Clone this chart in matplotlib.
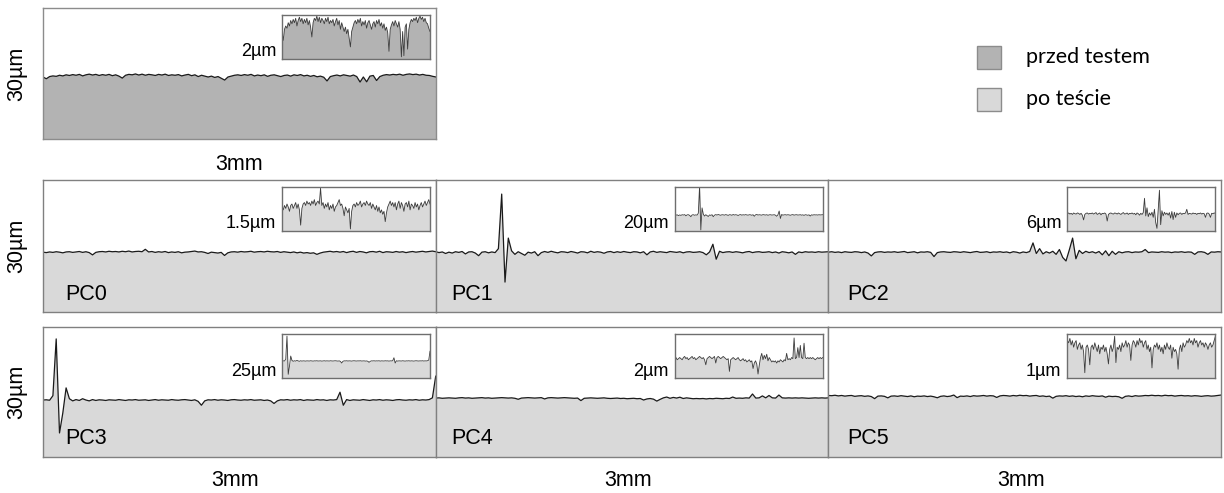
import numpy as np
import matplotlib.pyplot as plt
from matplotlib.patches import Rectangle

# profile heights (deviation from mean line, in um), 120 samples over 3 mm
before = [-0.30, -0.70, -0.20, -0.05, -0.15, 0.10, -0.05, 0.20, 0.05, 0.25,
          0.10, 0.30, -0.05, 0.20, 0.35, 0.15, 0.30, 0.05, 0.25, 0.10,
          0.30, 0.00, 0.20, -0.10, -0.55, 0.10, 0.30, 0.20, 0.40, 0.15,
          0.35, 0.10, 0.30, 0.20, 0.05, 0.30, 0.15, 0.35, 0.05, 0.20,
          0.10, 0.25, -0.05, 0.15, 0.30, 0.00, 0.20, -0.20, 0.10, -0.10,
          -0.30, -0.10, -0.40, -0.20, -0.60, -1.00, -0.30, -0.10, 0.10, 0.20,
          0.05, 0.25, 0.10, 0.30, -0.05, 0.15, 0.00, 0.20, -0.15, 0.10,
          0.20, 0.00, -0.20, 0.05, 0.15, -0.10, 0.20, 0.05, 0.25, -0.05,
          0.10, -0.15, 0.05, -0.25, -0.10, -0.35, -1.20, -0.20, 0.00, 0.15,
          -0.05, 0.20, 0.05, -0.10, 0.15, -0.20, -1.45, -0.30, -1.40, -0.10,
          0.05, -1.10, -0.20, 0.10, 0.25, 0.15, 0.30, 0.20, 0.35, 0.10,
          0.30, 0.40, 0.25, 0.35, 0.15, 0.30, 0.10, 0.05, -0.15, -0.30]

pc0 = [0.00, -0.10, 0.05, -0.05, 0.10, 0.00, -0.15, 0.05, 0.10, -0.05,
       0.05, 0.15, -0.05, 0.10, -0.10, -0.62, -0.05, 0.10, 0.15, 0.05,
       0.20, 0.10, 0.15, 0.05, 0.20, 0.10, 0.25, 0.05, 0.15, 0.20,
       0.10, 0.65, 0.05, 0.15, -0.05, 0.10, 0.00, 0.15, -0.10, 0.05,
       -0.05, 0.10, -0.15, 0.00, 0.05, 0.15, 0.25, 0.05, 0.10, -0.05,
       -0.30, 0.00, -0.10, -0.20, -0.05, -0.75, -0.15, 0.05, 0.10, 0.00,
       0.15, 0.05, 0.10, 0.20, 0.00, 0.10, 0.15, 0.05, 0.20, 0.10,
       0.05, 0.15, -0.05, 0.10, 0.00, -0.10, 0.05, -0.15, 0.00, -0.20,
       -0.10, -0.25, -0.15, -0.50, -0.20, 0.00, 0.10, 0.20, 0.05, 0.15,
       0.00, 0.15, -0.10, 0.10, 0.20, -0.05, 0.15, 0.05, -0.15, 0.10,
       0.15, 0.00, 0.20, -0.10, 0.10, 0.05, -0.05, 0.15, 0.00, 0.10,
       -0.10, 0.05, 0.15, 0.00, 0.10, 0.20, 0.05, 0.15, 0.25, 0.10]

pc1 = [0.10, -0.10, 0.05, -0.30, 0.00, -0.20, 0.10, -0.05, 0.15, -0.40,
       0.05, 0.10, -0.20, -0.80, 0.00, 0.10, -0.15, 0.05, -0.10, 0.80,
       13.20, -6.80, 3.20, 0.30, -0.50, 0.10, -0.30, -0.70, 0.00, -0.20,
       0.10, -0.80, -0.10, 0.15, -0.05, 0.20, 0.00, -0.15, 0.10, 0.05,
       -0.10, 0.15, 0.00, -0.20, 0.10, 0.05, -0.15, 0.20, -0.05, 0.10,
       0.00, -0.25, 0.05, 0.15, -0.10, 0.10, -0.05, 0.15, 0.00, -0.10,
       0.10, 0.05, -0.15, 0.10, -0.60, 0.05, 0.20, -0.05, 0.10, 0.00,
       -0.10, 0.15, 0.05, -0.05, 0.10, -0.15, 0.05, 0.10, -0.05, 0.00,
       0.10, -0.10, -0.60, 0.05, 1.80, -1.60, 0.20, -0.10, 0.05, 0.10,
       -0.05, 0.10, 0.00, -0.15, 0.05, 0.15, -0.10, 0.05, 0.10, -0.05,
       0.00, 0.10, -0.10, 0.05, -0.20, 0.10, 0.00, -0.15, 0.05, -0.50,
       0.05, -0.10, 0.10, 0.00, 0.05, -0.05, 0.10, 0.00, 0.05, 0.10]

pc2 = [0.00, 0.10, -0.05, 0.05, -0.10, 0.10, 0.00, -0.05, 0.10, 0.05,
       -0.10, 0.05, -0.20, -0.85, -0.10, 0.05, 0.10, -0.05, 0.05, 0.00,
       0.10, -0.05, 0.05, 0.15, -0.10, 0.00, 0.10, -0.15, 0.05, 0.00,
       0.10, -0.05, -1.00, -0.10, 0.05, 0.10, 0.00, -0.05, 0.10, 0.05,
       -0.05, 0.10, 0.00, -0.10, 0.05, 0.15, -0.05, 0.00, 0.10, -0.10,
       0.05, 0.00, 0.10, -0.05, 0.05, -0.15, 0.10, 0.00, -0.20, 0.05,
       -0.10, 0.15, 2.10, -0.30, 0.80, -0.40, 0.10, -0.20, 0.20, -0.50,
       0.60, -1.20, -2.00, 0.50, 3.20, -1.50, 0.40, -0.30, 0.20, -0.10,
       0.10, -0.20, 0.15, -0.60, 0.30, -0.80, 0.20, -0.50, 0.10, -0.15,
       0.05, 0.10, -0.10, 0.05, 0.00, 0.10, 0.60, -0.10, 0.05, 0.00,
       -0.05, 0.10, 0.00, 0.05, -0.10, 0.05, 0.00, 0.10, -0.05, 0.05,
       0.00, -0.50, 0.05, 0.10, -0.05, -0.50, 0.05, 0.00, 0.10, 0.05]

pc3 = [0.00, 0.05, -0.05, 1.00, 14.10, -7.60, -3.00, 2.80, 0.30, -0.20,
       0.10, -0.10, 0.30, 0.00, -0.20, 0.10, -0.10, 0.05, 0.00, -0.10,
       0.05, 0.00, -0.05, 0.10, 0.00, -0.10, 0.05, 0.00, 0.10, -0.05,
       0.00, 0.05, -0.10, 0.00, 0.10, -0.05, 0.05, 0.00, -0.05, 0.10,
       0.00, -0.05, 0.05, 0.10, 0.00, -0.10, 0.05, -0.30, -1.20, -0.20,
       0.05, 0.00, 0.10, -0.05, 0.05, 0.00, -0.10, 0.05, 0.10, 0.00,
       -0.05, 0.05, 0.00, 0.10, -0.05, 0.00, 0.05, -0.10, 0.00, -0.20,
       -0.80, -0.20, 0.05, 0.00, 0.10, -0.05, 0.05, 0.00, 0.10, -0.10,
       0.05, 0.00, -0.05, 0.10, 0.00, 0.05, -0.10, 0.05, 0.00, 0.10,
       1.80, -1.20, 0.10, -0.10, 0.05, 0.00, -0.05, 0.10, 0.00, -0.10,
       0.05, 0.00, 0.10, -0.05, 0.05, 0.00, -0.10, 0.05, 0.10, 0.00,
       -0.05, 0.05, 0.00, 0.10, -0.05, 0.05, 0.00, 0.10, 0.50, 5.50]

pc4 = [0.00, 0.05, -0.05, 0.00, 0.05, 0.00, -0.05, 0.05, 0.10, 0.00,
       0.05, -0.05, 0.00, 0.05, 0.10, 0.00, 0.05, -0.05, 0.00, 0.05,
       0.10, 0.05, 0.00, 0.05, -0.05, -0.28, 0.00, 0.05, 0.10, 0.05,
       0.00, 0.05, 0.10, -0.20, 0.05, 0.10, 0.05, 0.00, 0.05, 0.10,
       0.05, 0.00, -0.05, 0.00, -0.58, -0.05, 0.00, 0.05, 0.00, -0.05,
       0.00, 0.05, -0.05, -0.10, -0.05, 0.00, -0.10, -0.05, -0.15, -0.10,
       -0.05, -0.15, -0.10, -0.45, -0.20, -0.10, -0.25, -0.70, -0.30, 0.05,
       0.24, -0.05, 0.15, 0.00, 0.20, -0.10, 0.05, -0.05, -0.15, -0.10,
       -0.15, -0.10, -0.20, -0.10, -0.15, -0.05, -0.10, -0.15, -0.05, -0.10,
       0.24, -0.05, 0.00, -0.05, 0.05, 0.00, 0.94, 0.00, 0.05, 0.50,
       0.05, 0.60, 0.05, 0.00, 0.70, 0.05, 0.00, 0.05, 0.00, 0.05,
       0.00, 0.05, 0.00, -0.05, 0.00, 0.05, 0.00, 0.05, 0.00, 0.05]

pc5 = [0.10, 0.05, 0.15, 0.00, 0.10, -0.05, 0.05, 0.10, -0.10, 0.00,
       0.05, -0.10, 0.00, -0.15, -0.63, -0.05, 0.00, -0.10, -0.45, -0.05,
       0.00, -0.10, 0.05, -0.05, -0.15, 0.00, -0.20, -0.05, -0.10, 0.00,
       -0.15, -0.05, -0.20, -0.43, -0.10, 0.00, -0.15, -0.05, 0.20, -0.40,
       -0.05, -0.10, 0.00, -0.15, 0.05, -0.05, 0.00, 0.10, -0.05, 0.05,
       0.00, -0.35, 0.00, 0.10, 0.05, -0.05, 0.10, 0.00, 0.15, 0.05,
       0.10, -0.05, 0.05, 0.10, -0.10, 0.00, -0.15, -0.05, -0.52, -0.10,
       0.00, -0.05, 0.05, -0.10, 0.00, -0.15, -0.05, -0.20, 0.00, -0.10,
       0.05, -0.05, -0.10, 0.00, -0.30, -0.05, -0.15, -0.10, -0.20, -0.55,
       -0.10, 0.00, -0.15, 0.05, -0.05, 0.00, 0.10, 0.05, 0.15, 0.05,
       0.10, 0.00, 0.15, 0.05, 0.10, -0.05, 0.05, 0.10, 0.00, 0.05,
       -0.05, 0.05, 0.00, -0.10, 0.00, 0.05, -0.05, 0.00, 0.10, 0.20]

profiles = [pc0, pc1, pc2, pc3, pc4, pc5]
names = ["PC0", "PC1", "PC2", "PC3", "PC4", "PC5"]
levels = [13.6, 13.6, 13.6, 13.15, 13.6, 14.1]   # mean line height in the 30um window
before_level = 14.5
inset_labels = ["1.5µm", "20µm", "6µm", "25µm", "2µm", "1µm"]
inset_spans = [1.5, 20, 6, 25, 2, 1]
inset_bottoms = [-0.82, -7.3, -2.36, -9.7, -0.88, -0.75]

DARK = "#b3b3b3"
LIGHT = "#d9d9d9"
EDGE = "#808080"
FONT = "Liberation Sans"

W, H = 1224, 493
fig = plt.figure(figsize=(W / 100, H / 100), dpi=100)


def px_axes(x0, y0, w, h):
    return fig.add_axes([x0 / W, 1 - (y0 + h) / H, w / W, h / H])


def clean(ax, color):
    ax.set_xticks([])
    ax.set_yticks([])
    for s in ax.spines.values():
        s.set_color(color)
        s.set_linewidth(1.0)


def draw_profile(ax, dev, level, fill, lw, lc):
    y = level + np.array(dev)
    x = np.linspace(0, 3, len(y))
    ax.fill_between(x, -100, y, color=fill, lw=0)
    ax.plot(x, y, color=lc, lw=lw)
    ax.set_xlim(0, 3)


def draw_inset(x0, y0, dev, span, bottom, label, fill):
    ins = px_axes(x0, y0, 148, 44)
    draw_profile(ins, dev, 0, fill, 0.6, "#3c3c3c")
    ins.set_ylim(bottom, bottom + span)
    clean(ins, "#6e6e6e")
    fig.text((x0 - 6) / W, 1 - (y0 + 37) / H, label, ha="right", va="center",
             fontsize=13, family=FONT)


# top panel: before test
ax0 = px_axes(43, 8, 393, 131)
draw_profile(ax0, before, before_level, DARK, 0.9, "#1a1a1a")
ax0.set_ylim(0, 30)
clean(ax0, "#8c8c8c")
draw_inset(282, 15, before, 2, -1.55, "2µm", DARK)
fig.text(17 / W, 1 - 74 / H, "30µm", rotation=90, ha="center", va="center",
         fontsize=15.5, family=FONT)
fig.text(239 / W, 1 - 164 / H, "3mm", ha="center", va="center", fontsize=15.5, family=FONT)

# after test panels
col_w = 392.7
rows_y = [(180, 132), (327, 130)]
pc_dx = [22, 16, 19]
for i, dev in enumerate(profiles):
    r, c = divmod(i, 3)
    y0, h = rows_y[r]
    x0 = 43 + c * col_w
    ax = px_axes(x0, y0, col_w, h)
    draw_profile(ax, dev, levels[i], LIGHT, 0.9, "#1a1a1a")
    ax.set_ylim(0, 30)
    clean(ax, EDGE)
    ax.text(pc_dx[c] / col_w, 18 / h, names[i], transform=ax.transAxes,
            ha="left", va="center", fontsize=15.5, family=FONT)
    draw_inset(x0 + 239, y0 + 7, dev, inset_spans[i], inset_bottoms[i],
               inset_labels[i], LIGHT)
    if c == 0:
        fig.text(17 / W, 1 - (y0 + h / 2) / H, "30µm", rotation=90, ha="center",
                 va="center", fontsize=15.5, family=FONT)
    if r == 1:
        fig.text((x0 + col_w / 2 - 4) / W, 1 - 480 / H, "3mm", ha="center",
                 va="center", fontsize=15.5, family=FONT)

# legend
for k, (fc, txt) in enumerate([(DARK, "przed testem"), (LIGHT, "po teście")]):
    yy = 46 + k * 42
    fig.add_artist(Rectangle((977 / W, 1 - (yy + 23) / H), 24 / W, 23 / H,
                             transform=fig.transFigure, facecolor=fc,
                             edgecolor="#8c8c8c", lw=1.0))
    fig.text(1026 / W, 1 - (yy + 11) / H, txt, ha="left", va="center",
             fontsize=15.5, family="Lato")

fig.savefig("out.png", dpi=100)
